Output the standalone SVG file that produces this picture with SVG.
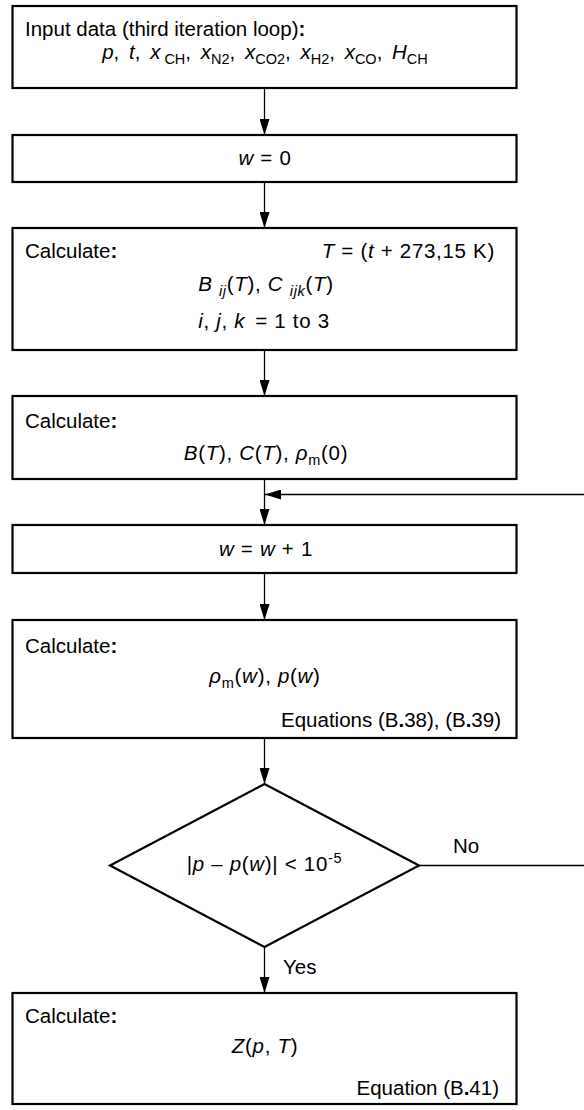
<svg xmlns="http://www.w3.org/2000/svg" width="584" height="1110" viewBox="0 0 584 1110">
<style>
text{font-family:"Liberation Sans",Arial,sans-serif;font-size:20.5px;fill:#000}
.c{text-anchor:middle}
.e{text-anchor:end}
.i{font-style:italic}
.s{font-size:14.5px}
.b{font-weight:bold}
.m{letter-spacing:0.7px}
.box{fill:#fff;stroke:#000;stroke-width:2.2}
.con{fill:none;stroke:#000;stroke-width:1.3}
</style>
<defs>
<marker id="ah" markerWidth="16" markerHeight="10" refX="16" refY="5" orient="auto" markerUnits="userSpaceOnUse"><path d="M0,0 L16,5 L0,10 z" fill="#000"/></marker>
</defs>
<rect width="584" height="1110" fill="#fff"/>
<g id="connectors">
<line class="con" x1="264.5" y1="88" x2="264.5" y2="135" marker-end="url(#ah)"/>
<line class="con" x1="264.5" y1="182" x2="264.5" y2="228" marker-end="url(#ah)"/>
<line class="con" x1="264.5" y1="350" x2="264.5" y2="396" marker-end="url(#ah)"/>
<line class="con" x1="264.5" y1="479" x2="264.5" y2="525" marker-end="url(#ah)"/>
<line class="con" x1="264.5" y1="573" x2="264.5" y2="620" marker-end="url(#ah)"/>
<line class="con" x1="264.5" y1="738" x2="264.5" y2="784" marker-end="url(#ah)"/>
<line class="con" x1="264.5" y1="947" x2="264.5" y2="993" marker-end="url(#ah)"/>
<path class="con" d="M419,865.5 H600 V494.5 H265" marker-end="url(#ah)"/>
<text x="453" y="853">No</text>
<text x="283" y="974">Yes</text>
</g>
<g id="input">
<rect class="box" x="12.5" y="6" width="504" height="82"/>
<text x="25" y="36">Input data (third iteration loop)<tspan class="b">:</tspan></text>
<text class="c" x="265" y="59" style="word-spacing:4px"><tspan class="i">p</tspan>, <tspan class="i">t</tspan>, <tspan class="i">x</tspan><tspan class="s" dx="4" dy="5">CH</tspan><tspan dy="-5">, </tspan><tspan class="i">x</tspan><tspan class="s" dy="5">N2</tspan><tspan dy="-5">, </tspan><tspan class="i">x</tspan><tspan class="s" dy="5">CO2</tspan><tspan dy="-5">, </tspan><tspan class="i">x</tspan><tspan class="s" dy="5">H2</tspan><tspan dy="-5">, </tspan><tspan class="i">x</tspan><tspan class="s" dy="5">CO</tspan><tspan dy="-5">, </tspan><tspan class="i">H</tspan><tspan class="s" dy="5">CH</tspan></text>
</g>
<g id="init">
<rect class="box" x="12.5" y="135" width="504" height="47"/>
<text class="c m" x="265" y="165"><tspan class="i">w</tspan> = 0</text>
</g>
<g id="calc1">
<rect class="box" x="12.5" y="228" width="504" height="122"/>
<text x="25" y="258">Calculate<tspan class="b">:</tspan></text>
<text class="e m" x="495" y="258"><tspan class="i">T</tspan> = (<tspan class="i">t</tspan> + 273,15 K)</text>
<text class="c m" x="266" y="291"><tspan class="i">B</tspan> <tspan class="i s" dy="5">ij</tspan><tspan dy="-5">(</tspan><tspan class="i">T</tspan>), <tspan class="i">C</tspan> <tspan class="i s" dy="5">ijk</tspan><tspan dy="-5">(</tspan><tspan class="i">T</tspan>)</text>
<text class="c m" x="264" y="328"><tspan class="i">i</tspan>, <tspan class="i">j</tspan>, <tspan class="i">k</tspan><tspan dx="10">= 1 to 3</tspan></text>
</g>
<g id="calc2">
<rect class="box" x="12.5" y="396" width="504" height="83"/>
<text x="25" y="428">Calculate<tspan class="b">:</tspan></text>
<text class="c m" x="266" y="460"><tspan class="i">B</tspan>(<tspan class="i">T</tspan>), <tspan class="i">C</tspan>(<tspan class="i">T</tspan>), <tspan class="i">ρ</tspan><tspan class="s" dy="5">m</tspan><tspan dy="-5">(0)</tspan></text>
</g>
<g id="increment">
<rect class="box" x="12.5" y="525" width="504" height="48"/>
<text class="c m" x="266" y="556"><tspan class="i">w</tspan> = <tspan class="i">w</tspan> + 1</text>
</g>
<g id="calc3">
<rect class="box" x="12.5" y="620" width="504" height="118"/>
<text x="25" y="653">Calculate<tspan class="b">:</tspan></text>
<text class="c m" x="265" y="683"><tspan class="i">ρ</tspan><tspan class="s" dy="5">m</tspan><tspan dy="-5">(</tspan><tspan class="i">w</tspan>), <tspan class="i">p</tspan>(<tspan class="i">w</tspan>)</text>
<text class="e" x="501" y="727">Equations (B<tspan class="b">.</tspan>38), (B<tspan class="b">.</tspan>39)</text>
</g>
<g id="decision">
<polygon points="264.5,784 419,865.5 264.5,947 110,865.5" fill="#fff" stroke="#000" stroke-width="2.2"/>
<text class="c m" x="264.5" y="871">|<tspan class="i">p</tspan> – <tspan class="i">p</tspan>(<tspan class="i">w</tspan>)| &lt; 10<tspan class="s" dy="-8">-5</tspan></text>
</g>
<g id="result">
<rect class="box" x="12.5" y="993" width="504" height="111"/>
<text x="25" y="1023">Calculate<tspan class="b">:</tspan></text>
<text class="c m" x="265" y="1053"><tspan class="i">Z</tspan>(<tspan class="i">p</tspan>, <tspan class="i">T</tspan>)</text>
<text class="e" x="499" y="1095">Equation (B<tspan class="b">.</tspan>41)</text>
</g>
</svg>
